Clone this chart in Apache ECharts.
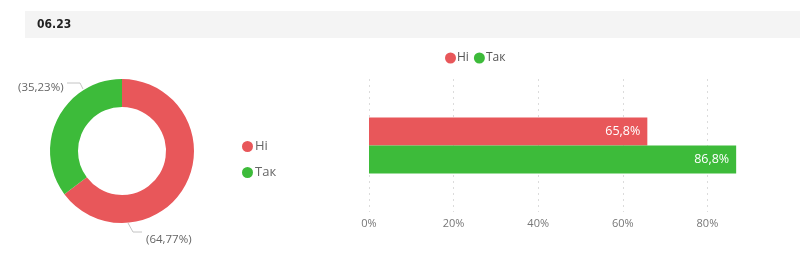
<!DOCTYPE html>
<html>
<head>
<meta charset="utf-8">
<script src="https://cdn.jsdelivr.net/npm/echarts@6/dist/echarts.min.js"></script>
<style>
html,body{margin:0;padding:0;background:#fff;}
#c{width:800px;height:261px;}
</style>
</head>
<body>
<div id="c"></div>
<script>
const headerTitle = '06.23';
const pieCategories = ['Ні', 'Так'];
const pieValues = [64.77, 35.23];
const barCategories = ['06.23'];
const barSeriesNames = ['Ні', 'Так'];
const barNiValues = [65.8];
const barTakValues = [86.8];
const colors = ['#E8575A', '#3DBB3A'];

const FONT = '"Open Sans", "Noto Sans", sans-serif';
const chart = echarts.init(document.getElementById('c'), null, {renderer: 'canvas'});
const fmtComma = (v, d) => v.toFixed(d).replace('.', ',');

const option = {
  animation: false,
  textStyle: {fontFamily: FONT},
  graphic: [
    {type: 'rect', left: 25, top: 11, shape: {width: 775, height: 27}, style: {fill: '#f4f4f4'}, silent: true},
    {type: 'text', left: 37, top: 19, style: {text: headerTitle, font: 'bold 12px "Liberation Sans Narrow", "DejaVu Sans Condensed", sans-serif', fill: '#222'}}
  ],
  legend: [
    {
      data: pieCategories,
      orient: 'vertical',
      left: 237, top: 135,
      icon: 'circle', itemWidth: 11, itemHeight: 11, itemGap: 13,
      textStyle: {color: '#666', fontSize: 13, fontFamily: FONT, padding: [0,0,0,-3]},
      selectedMode: false
    },
    {
      data: barSeriesNames,
      orient: 'horizontal',
      left: 440, top: 47,
      icon: 'circle', itemWidth: 11, itemHeight: 11, itemGap: 5,
      textStyle: {color: '#555', fontSize: 12, fontFamily: FONT, padding: [0,0,0,-4]},
      selectedMode: false
    }
  ],
  grid: {left: 369, right: 8, top: 79, bottom: 49},
  xAxis: {
    type: 'value', min: 0, max: 100, interval: 20,
    axisLine: {show: false}, axisTick: {show: false},
    axisLabel: {formatter: '{value}%', color: '#777', fontSize: 11, margin: 6, showMaxLabel: false, fontFamily: FONT},
    splitLine: {show: true, showMaxLine: false, lineStyle: {type: [2, 4], color: '#dcdcdc', width: 1}}
  },
  yAxis: {
    type: 'category', data: barCategories, inverse: true,
    axisLine: {show: false}, axisTick: {show: false}, axisLabel: {show: false}, splitLine: {show: false}
  },
  series: [
    {
      type: 'pie',
      center: [122, 151],
      radius: [44, 72],
      startAngle: 90,
      clockwise: true,
      silent: true,
      avoidLabelOverlap: false,
      data: pieCategories.map((n, i) => ({name: n, value: pieValues[i], itemStyle: {color: colors[i]}})),
      label: {
        show: true,
        formatter: p => '(' + fmtComma(p.value, 2) + '%)',
        color: '#666', fontSize: 11.5, fontFamily: FONT
      },
      labelLine: {show: true, lineStyle: {color: '#c4c4c4', width: 1}},
      labelLayout: function (params) {
        if (params.dataIndex === 0) {
          return {x: 146, y: 240, align: 'left', verticalAlign: 'middle',
            labelLinePoints: [[128, 223], [133, 232], [142, 232]]};
        }
        return {x: 18, y: 88, align: 'left', verticalAlign: 'middle',
          labelLinePoints: [[83, 89], [80, 83], [67, 83]]};
      },
      emphasis: {disabled: true}
    },
    {
      name: barSeriesNames[0], type: 'bar', data: barNiValues,
      barWidth: 28, barGap: '0%',
      itemStyle: {color: colors[0]},
      label: {show: true, position: 'insideRight', distance: 7, color: '#fff', fontSize: 12.5, fontFamily: FONT,
        formatter: p => fmtComma(p.value, 1) + '%'},
      silent: true
    },
    {
      name: barSeriesNames[1], type: 'bar', data: barTakValues,
      barWidth: 28, barGap: '0%',
      itemStyle: {color: colors[1]},
      label: {show: true, position: 'insideRight', distance: 7, color: '#fff', fontSize: 12.5, fontFamily: FONT,
        formatter: p => fmtComma(p.value, 1) + '%'},
      silent: true
    }
  ]
};
chart.setOption(option);
</script>
</body>
</html>
